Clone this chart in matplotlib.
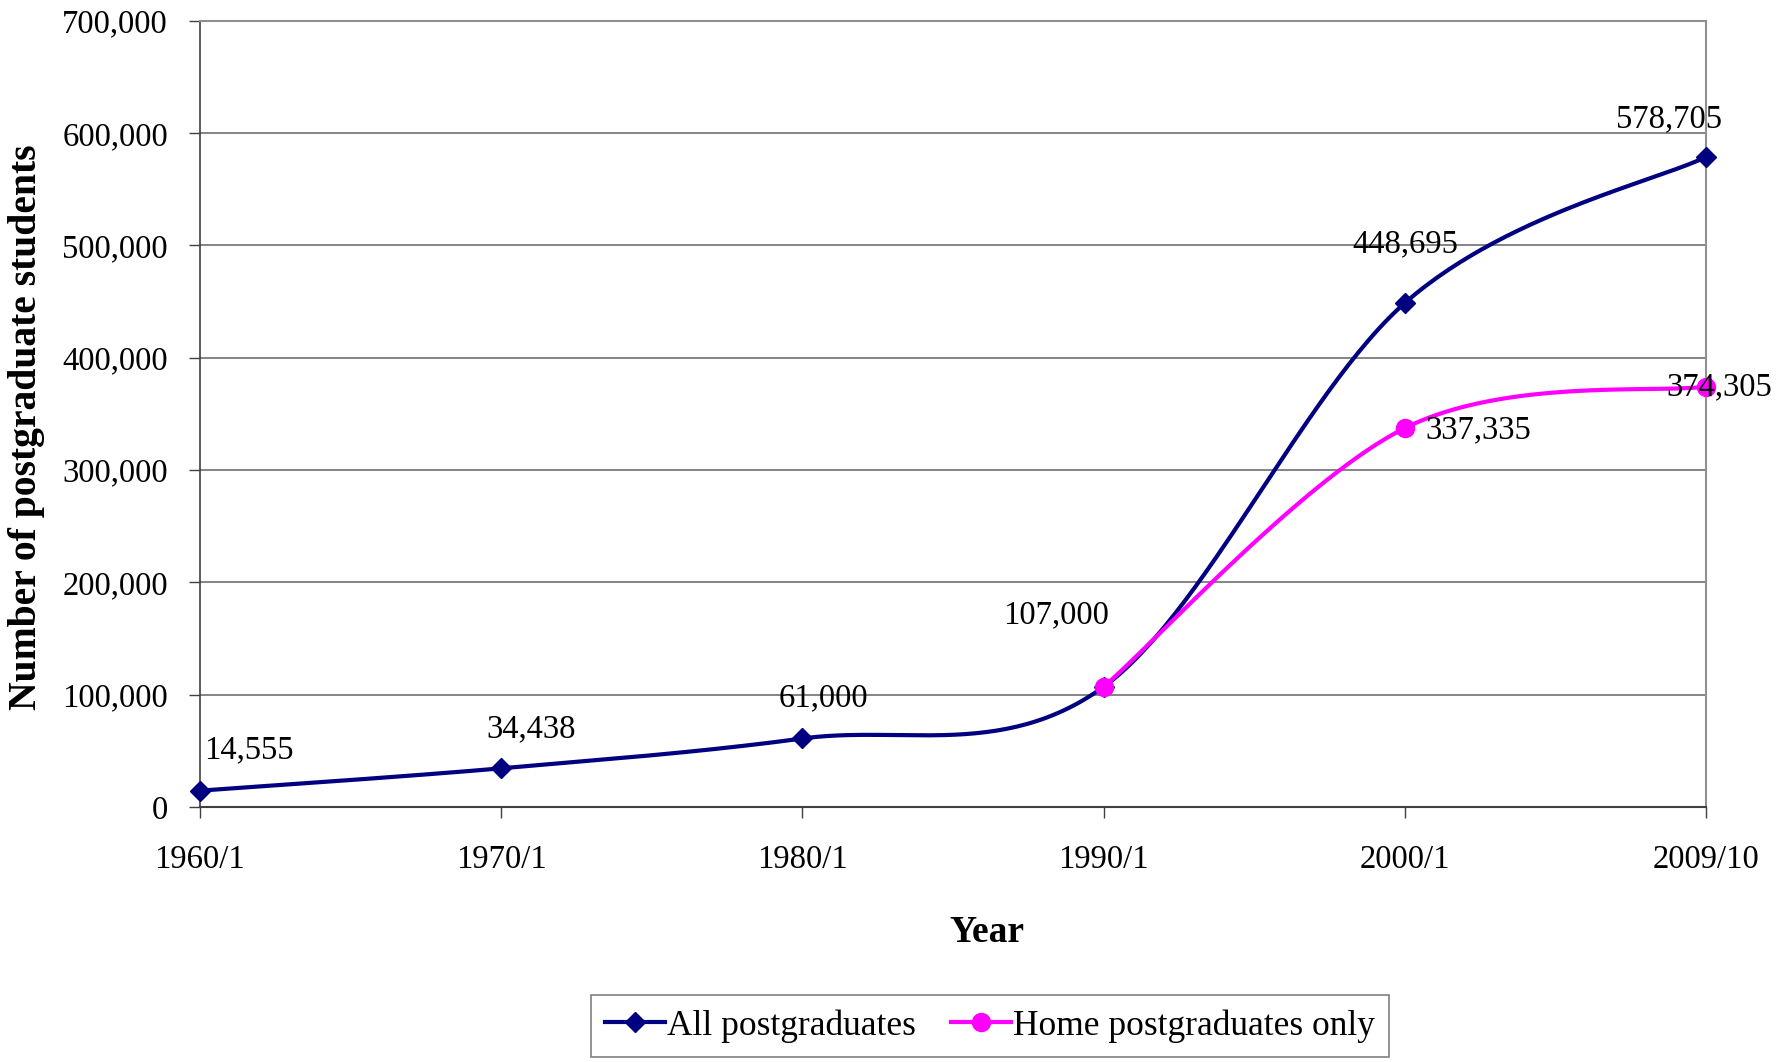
import matplotlib
matplotlib.use("Agg")
import matplotlib.pyplot as plt
import numpy as np

# data
categories = ["1960/1", "1970/1", "1980/1", "1990/1", "2000/1", "2009/10"]
all_pg = [14555, 34438, 61000, 107000, 448695, 578705]
home_pg = [None, None, None, 107000, 337335, 374305]
yticks = [0, 100000, 200000, 300000, 400000, 500000, 600000, 700000]

# label offsets in pixels (dx, dy)
all_off = [(49, 41), (30, 39), (21, 40), (-48, 72), (0, 59), (-37, 38)]
home_off = [None, None, None, None, (73, -2), (13, 0)]

plt.rcParams["font.family"] = ["Liberation Serif", "DejaVu Serif"]
plt.rcParams["font.size"] = 23.5


def smooth(xs, ys, n=60):
    # Catmull-Rom style bezier, like the spreadsheet "smoothed line"
    xs = list(xs); ys = list(ys)
    px, py = [], []
    for i in range(len(xs) - 1):
        x0, y0 = (xs[i - 1], ys[i - 1]) if i > 0 else (xs[i], ys[i])
        x1, y1 = xs[i], ys[i]
        x2, y2 = xs[i + 1], ys[i + 1]
        x3, y3 = (xs[i + 2], ys[i + 2]) if i + 2 < len(xs) else (x2, y2)
        cx1, cy1 = x1 + (x2 - x0) / 6, y1 + (y2 - y0) / 6
        cx2, cy2 = x2 - (x3 - x1) / 6, y2 - (y3 - y1) / 6
        t = np.linspace(0, 1, n)
        b0, b1, b2, b3 = (1 - t) ** 3, 3 * t * (1 - t) ** 2, 3 * t ** 2 * (1 - t), t ** 3
        px.extend(b0 * x1 + b1 * cx1 + b2 * cx2 + b3 * x2)
        py.extend(b0 * y1 + b1 * cy1 + b2 * cy2 + b3 * y2)
    return np.array(px), np.array(py)


fig = plt.figure(figsize=(17.87, 10.62), dpi=100)
ax = fig.add_axes([0.1119, 0.2401, 0.9547 - 0.1119, 0.9805 - 0.2401])

x = np.arange(len(categories))
navy = "#000080"
mag = "#FF00FF"

sx, sy = smooth(x, all_pg)
ax.plot(sx, sy, color=navy, lw=3, zorder=3, clip_on=False)
ax.plot(x, all_pg, "D", color=navy, ms=10, zorder=4, clip_on=False)

hx = [i for i, v in enumerate(home_pg) if v is not None]
hy = [v for v in home_pg if v is not None]
sx, sy = smooth(hx, hy)
ax.plot(sx, sy, color=mag, lw=3, zorder=3, clip_on=False)
ax.plot(hx, hy, "o", color=mag, ms=13, zorder=4, clip_on=False)

# legend handles
ax.plot([], [], color=navy, lw=3, marker="D", ms=10, label="All postgraduates")
ax.plot([], [], color=mag, lw=3, marker="o", ms=13, label="Home postgraduates only")

for i, v in enumerate(all_pg):
    ax.annotate(f"{v:,}", (x[i], v), xytext=all_off[i], textcoords="offset pixels",
                ha="center", va="center", zorder=5, annotation_clip=False)
for i, v in enumerate(home_pg):
    if v is not None and home_off[i] is not None:
        ax.annotate(f"{v:,}", (x[i], v), xytext=home_off[i], textcoords="offset pixels",
                    ha="center", va="center", zorder=5, annotation_clip=False)

ax.set_xlim(0, len(categories) - 1)
ax.set_ylim(0, 700000)
ax.set_yticks(yticks)
ax.set_yticklabels([f"{v:,}" for v in yticks])
ax.set_xticks(x)
ax.set_xticklabels(categories)
ax.yaxis.grid(True, color="#707070", lw=1.2)
ax.set_axisbelow(True)

ax.tick_params(axis="y", length=8, width=1, color="#404040", pad=15)
ax.tick_params(axis="x", length=8, width=1, color="#404040", pad=19)
for s in ["top", "right"]:
    ax.spines[s].set_color("#909090")
    ax.spines[s].set_linewidth(1.5)
ax.spines["left"].set_color("#404040")
ax.spines["left"].set_linewidth(1.2)
ax.spines["bottom"].set_color("#404040")
ax.spines["bottom"].set_linewidth(1.5)

fig.text(27 / 1787, 1 - 427 / 1062, "Number of postgraduate students", rotation=90,
         ha="center", va="center", fontweight="bold", fontsize=28.5)
fig.text(987 / 1787, 1 - 932 / 1062, "Year", ha="center", va="center",
         fontweight="bold", fontsize=27)

leg = fig.legend(loc="center", bbox_to_anchor=(990 / 1787, 1 - 1026 / 1062),
                 ncol=2, frameon=True, fancybox=False, edgecolor="#606060",
                 handlelength=1.7, handletextpad=0.05, columnspacing=1.0,
                 borderpad=0.4, fontsize=25.5)
leg.get_frame().set_linewidth(1.2)

fig.savefig("out.png", dpi=100)
